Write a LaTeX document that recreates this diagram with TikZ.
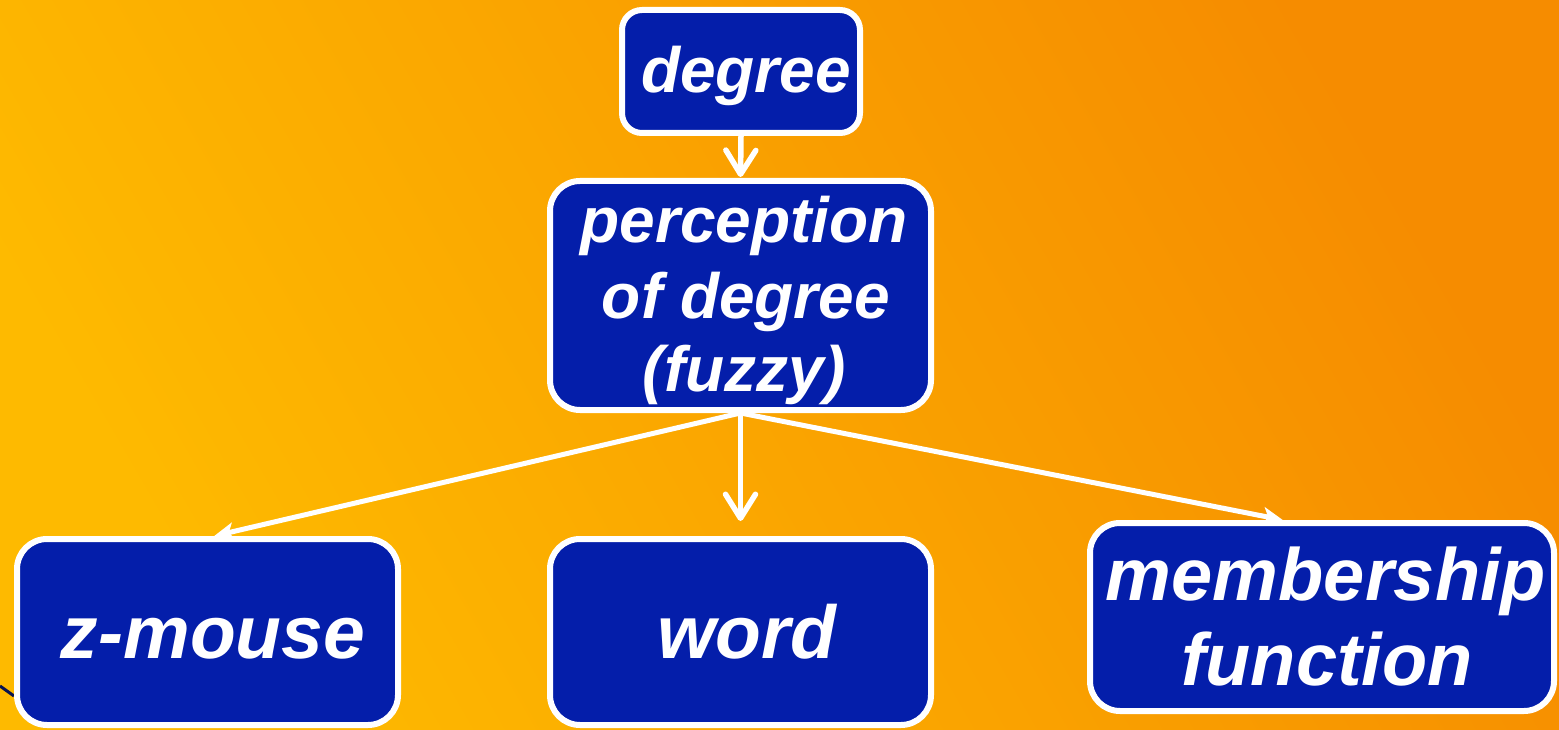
\documentclass[tikz,border=0pt]{standalone}
\usepackage{fontspec}
\setmainfont{Liberation Sans}
\usetikzlibrary{arrows.meta}
\definecolor{boxblue}{RGB}{4,30,170}
\definecolor{bgyellow}{RGB}{254,186,0}
\definecolor{bgorange}{RGB}{246,140,0}
\definecolor{navyline}{RGB}{10,20,80}
\tikzset{
  card/.style={draw=white, line width=6pt, fill=boxblue, inner sep=0pt},
  cardtext/.style={text=white, inner sep=0pt, anchor=base},
  midfont/.style={font=\bfseries\itshape\fontsize{64}{74}\selectfont},
  bigfont/.style={font=\bfseries\itshape\fontsize{75}{86}\selectfont},
  vlink/.style={draw=white, line width=5.5pt,
    -{Straight Barb[length=24pt,width=30pt,line width=5.5pt,round]}},
  dlink/.style={draw=white, line width=5pt,
    -{Stealth[length=20pt,width=18pt,inset=5pt]}},
}
\begin{document}
\begin{tikzpicture}[x=1pt,y=-1pt]
  % backdrop
  \useasboundingbox (0,0) rectangle (1559,730);
  \shade[top color=bgorange, bottom color=bgyellow, shading angle=-60]
    (0,0) rectangle (1559,730);
  % stray stroke entering from the left edge
  \coordinate (strayA) at (0,686);
  \coordinate (strayB) at (14,696);
  \draw[navyline, line width=3pt] (strayA) -- (strayB);

  % boxes
  \node[card, minimum width=238pt, minimum height=123pt, rounded corners=20pt]
    (deg) at (741,71.5) {};
  \node[card, minimum width=381pt, minimum height=229pt, rounded corners=30pt]
    (perc) at (740.5,295.5) {};
  \node[card, minimum width=381pt, minimum height=186pt, rounded corners=30pt]
    (zm) at (207.5,632) {};
  \node[card, minimum width=381pt, minimum height=186pt, rounded corners=30pt]
    (wd) at (740.5,632) {};
  \node[card, minimum width=464pt, minimum height=188pt, rounded corners=30pt]
    (mf) at (1322,617) {};

  % box texts, placed on their baselines
  \node[cardtext, midfont] (degT) at (746,93) {degree};
  \node[cardtext, midfont] (percT1) at (744,243) {perception};
  \node[cardtext, midfont] (percT2) at (746,318) {of degree};
  \node[cardtext, midfont] (percT3) at (744,391) {(fuzzy)};
  \node[cardtext, bigfont] (zmT) at (213,658) {z-mouse};
  \node[cardtext, bigfont] (wdT) at (747,658) {word};
  \node[cardtext, font=\bfseries\itshape\fontsize{74}{85}\selectfont]
    (mfT1) at (1326,600) {membership};
  \node[cardtext, font=\bfseries\itshape\fontsize{74}{85}\selectfont]
    (mfT2) at (1327,685) {function};

  % connectors
  \draw[vlink, shorten <=-3pt, shorten >=1pt] (deg.south) -- (perc.north);
  \draw[vlink, shorten <=-3pt, shorten >=15pt] (perc.south) -- (wd.north);
  \draw[dlink, shorten <=-2pt] (perc.south) -- (zm.86);
  \draw[dlink, shorten <=-2pt] (perc.south) -- (mf.112);
\end{tikzpicture}
\end{document}
